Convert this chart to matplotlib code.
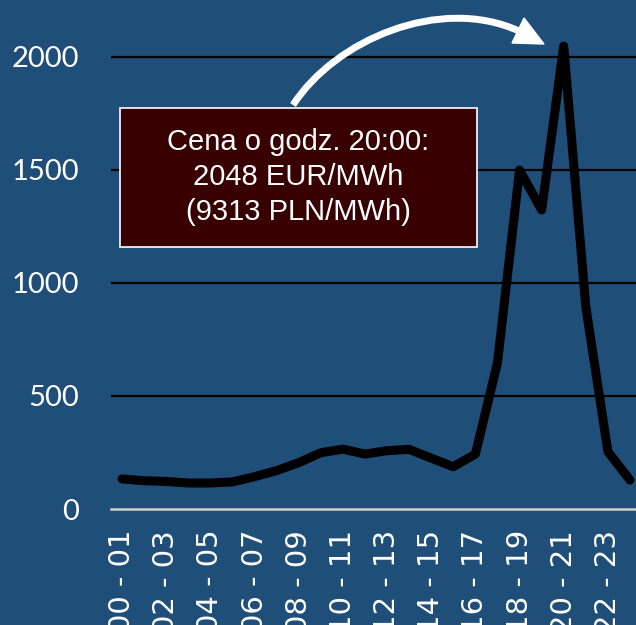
import matplotlib
matplotlib.use("Agg")
import matplotlib.pyplot as plt
from matplotlib.patches import Rectangle, PathPatch, Polygon
from matplotlib.path import Path

hours = [f"{h:02d} - {h+1:02d}" for h in range(24)]
prices = [133, 125, 122, 115, 115, 120, 143, 170, 205, 249, 265, 243,
          258, 264, 225, 187, 243, 646, 1500, 1323, 2048, 895, 254, 128]
yticks = [0, 500, 1000, 1500, 2000]
box_lines = ["Cena o godz. 20:00:", "2048 EUR/MWh", "(9313 PLN/MWh)"]

BG = "#1F4E79"
W, H = 636, 625

fig = plt.figure(figsize=(W / 100, H / 100), dpi=100, facecolor=BG)
ax = fig.add_axes([111 / W, 116 / H, 530 / W, 509 / H], facecolor=BG)

x = list(range(len(hours)))
ax.plot(x, prices, color="black", lw=6.5, solid_capstyle="round",
        solid_joinstyle="round", zorder=3)

ax.set_xlim(-0.5, 23.5)
ax.set_ylim(0, 2252)
ax.set_yticks(yticks)
ax.set_yticklabels([str(t) for t in yticks], color="white", fontsize=21,
                   family=["Lato", "DejaVu Sans"])
ax.set_xticks(x[::2])
ax.set_xticklabels(hours[::2], rotation=90, color="white", fontsize=21,
                   family="DejaVu Sans", va="top")
ax.tick_params(axis="y", length=0, pad=23)
ax.tick_params(axis="x", length=0, pad=15)

for t in yticks[1:]:
    ax.axhline(t, color="black", lw=1.6, zorder=1)
for s in ["top", "right", "left"]:
    ax.spines[s].set_visible(False)
ax.spines["bottom"].set_color("#D0D0D0")
ax.spines["bottom"].set_linewidth(1.8)


def fp(px, py):
    return (px / W, 1 - py / H)


# annotation box
x0, y0 = fp(120, 247)
rect = Rectangle((x0, y0), (477 - 120) / W, (247 - 108) / H,
                 transform=fig.transFigure, facecolor="#380000",
                 edgecolor="white", lw=1.2, zorder=5)
fig.patches.append(rect)
tx, ty = fp(298.5, 177)
fig.text(tx, ty, "\n".join(box_lines), color="white",
         fontsize=21, family="Liberation Sans", ha="center", va="center",
         linespacing=1.33, zorder=6)

# curved arrow: shaft + head
verts = [fp(293, 105), fp(335, 40), fp(440, -5), fp(519, 31)]
codes = [Path.MOVETO, Path.CURVE4, Path.CURVE4, Path.CURVE4]
shaft = PathPatch(Path(verts, codes), facecolor="none", edgecolor="white",
                  lw=5, transform=fig.transFigure, zorder=6,
                  capstyle="butt")
fig.patches.append(shaft)
head = Polygon([fp(524, 18), fp(512, 43), fp(544, 44)], closed=True,
               facecolor="white", edgecolor="white", lw=1,
               transform=fig.transFigure, zorder=7)
fig.patches.append(head)

fig.savefig("out.png", dpi=100, facecolor=BG)
